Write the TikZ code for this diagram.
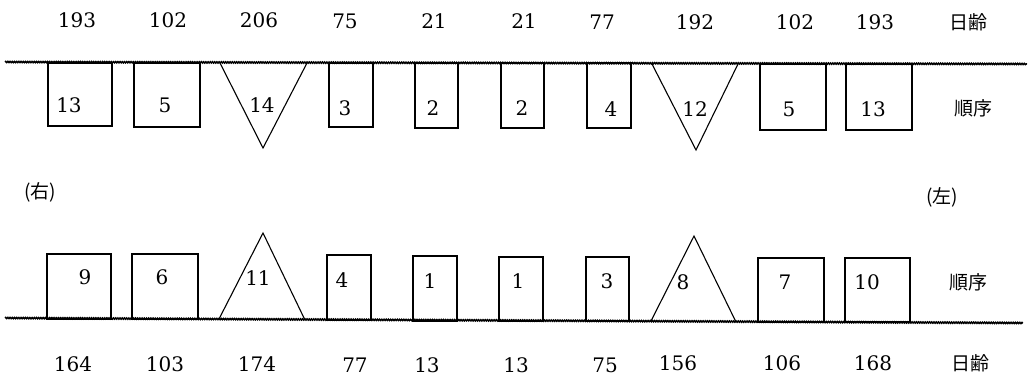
\documentclass[tikz,border=0pt]{standalone}
\usepackage{fontspec}
\newfontfamily\cjk{Noto Sans CJK JP}
\newfontfamily\numfont{DejaVu Serif}
\usetikzlibrary{decorations.pathmorphing}
\tikzset{
  rope/.style={line width=1.5pt, decorate, decoration={snake, segment length=2.2pt, amplitude=0.6pt}},
  flag/.style={draw, line width=1.1pt, inner sep=0pt, outer sep=0pt},
  tri/.style={draw, line width=1.1pt, line join=miter},
  num/.style={inner sep=0pt, font=\numfont\fontsize{20}{20}\selectfont},
  jp/.style={inner sep=0pt, font=\cjk\fontsize{19}{19}\selectfont}
}
\begin{document}
\begin{tikzpicture}[x=1pt,y=-1pt]
\useasboundingbox (0,0) rectangle (1029,386);
% ropes
\coordinate (tl) at (5,62); \coordinate (tr) at (1027,64);
\coordinate (bl) at (5,318); \coordinate (br) at (1023,323);
\draw[rope] (tl) -- (tr);
\draw[rope] (bl) -- (br);
% top flags
\node[flag, anchor=north west, minimum width=64pt, minimum height=63pt] (t1) at (48,63) {};
\node[flag, anchor=north west, minimum width=66pt, minimum height=64pt] (t2) at (134,63) {};
\coordinate (t3a) at (220,63); \coordinate (t3b) at (263,148); \coordinate (t3c) at (307,63);
\draw[tri] (t3a) -- (t3b) -- (t3c);
\node[flag, anchor=north west, minimum width=44pt, minimum height=64pt] (t4) at (329,63) {};
\node[flag, anchor=north west, minimum width=43pt, minimum height=65pt] (t5) at (415,63) {};
\node[flag, anchor=north west, minimum width=43pt, minimum height=65pt] (t6) at (501,63) {};
\node[flag, anchor=north west, minimum width=44pt, minimum height=65pt] (t7) at (587,63) {};
\coordinate (t8a) at (652,64); \coordinate (t8b) at (696,150); \coordinate (t8c) at (738,64);
\draw[tri] (t8a) -- (t8b) -- (t8c);
\node[flag, anchor=north west, minimum width=66pt, minimum height=66pt] (t9) at (760,64) {};
\node[flag, anchor=north west, minimum width=66pt, minimum height=66pt] (t10) at (846,64) {};
% top numbers in flags
\node[num] (n1) at (69,105) {13};
\node[num] (n2) at (165,105) {5};
\node[num] (n3) at (262,105) {14};
\node[num] (n4) at (345,108) {3};
\node[num] (n5) at (433,108) {2};
\node[num] (n6) at (522,108) {2};
\node[num] (n7) at (611,109) {4};
\node[num] (n8) at (695,109) {12};
\node[num] (n9) at (789,109) {5};
\node[num] (n10) at (873,109) {13};
\node[jp] (o1) at (973,108) {順序};
% top ages
\node[num] (a1) at (77,20) {193};
\node[num] (a2) at (168,20) {102};
\node[num] (a3) at (259,20) {206};
\node[num] (a4) at (345,21) {75};
\node[num] (a5) at (434,21) {21};
\node[num] (a6) at (524,21) {21};
\node[num] (a7) at (602,22) {77};
\node[num] (a8) at (695,22) {192};
\node[num] (a9) at (795,22) {102};
\node[num] (a10) at (875,22) {193};
\node[jp] (d1) at (968,22) {日齢};
% side labels
\node[jp] (r) at (40,192) {(右)};
\node[jp] (l) at (942,197) {(左)};
% bottom flags
\node[flag, anchor=south west, minimum width=64pt, minimum height=65pt] (b1) at (47,319) {};
\node[flag, anchor=south west, minimum width=66pt, minimum height=65pt] (b2) at (132,319) {};
\coordinate (b3a) at (219,319); \coordinate (b3b) at (263,233); \coordinate (b3c) at (305,320);
\draw[tri] (b3a) -- (b3b) -- (b3c);
\node[flag, anchor=south west, minimum width=44pt, minimum height=65pt] (b4) at (327,320) {};
\node[flag, anchor=south west, minimum width=44pt, minimum height=65pt] (b5) at (413,321) {};
\node[flag, anchor=south west, minimum width=44pt, minimum height=64pt] (b6) at (499,321) {};
\node[flag, anchor=south west, minimum width=43pt, minimum height=64pt] (b7) at (586,321) {};
\coordinate (b8a) at (651,321); \coordinate (b8b) at (694,236); \coordinate (b8c) at (736,322);
\draw[tri] (b8a) -- (b8b) -- (b8c);
\node[flag, anchor=south west, minimum width=66pt, minimum height=64pt] (b9) at (758,322) {};
\node[flag, anchor=south west, minimum width=65pt, minimum height=64pt] (b10) at (845,322) {};
% bottom numbers in flags
\node[num] (m1) at (85,277) {9};
\node[num] (m2) at (162,277) {6};
\node[num] (m3) at (258,278) {11};
\node[num] (m4) at (342,280) {4};
\node[num] (m5) at (430,281) {1};
\node[num] (m6) at (518,281) {1};
\node[num] (m7) at (607,281) {3};
\node[num] (m8) at (683,282) {8};
\node[num] (m9) at (785,282) {7};
\node[num] (m10) at (867,282) {10};
\node[jp] (o2) at (968,282) {順序};
% bottom ages
\node[num] (c1) at (73,364) {164};
\node[num] (c2) at (165,364) {103};
\node[num] (c3) at (257,364) {174};
\node[num] (c4) at (355,365) {77};
\node[num] (c5) at (427,365) {13};
\node[num] (c6) at (516,365) {13};
\node[num] (c7) at (605,365) {75};
\node[num] (c8) at (678,363) {156};
\node[num] (c9) at (782,363) {106};
\node[num] (c10) at (873,363) {168};
\node[jp] (d2) at (970,363) {日齢};
\end{tikzpicture}
\end{document}
